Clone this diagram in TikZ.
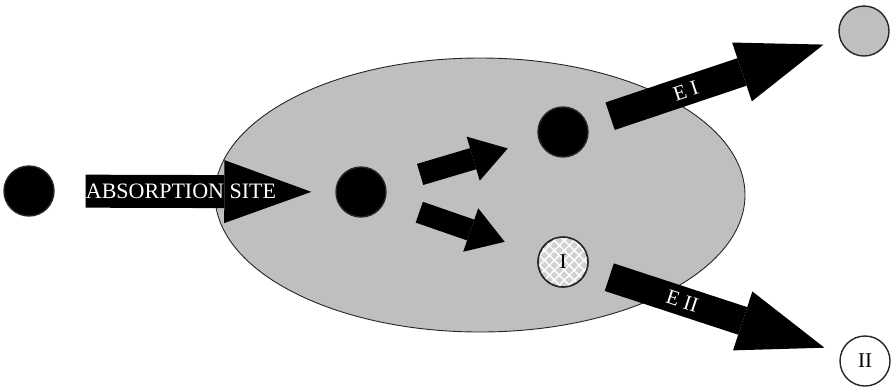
\documentclass[tikz,border=0pt]{standalone}
\usepackage{fontspec}
\setmainfont{Liberation Serif}
\usepackage{tikz}
\usetikzlibrary{arrows.meta,patterns.meta}

\begin{document}
\begin{tikzpicture}[x=1pt, y=-1pt,
  dot/.style={circle, draw=black!85, line width=1.4pt, minimum size=50pt,
    inner sep=0pt, font=\fontsize{21}{24}\selectfont},
  bigarr/.style={line width=33pt, -{Triangle[length=87pt, width=63pt, line width=0pt]}},
  midarr/.style={line width=29pt, -{Triangle[length=86pt, width=62pt, line width=0pt]}},
  smallarr/.style={line width=22pt, -{Triangle[length=36pt, width=46pt, line width=0pt]}},
  lbl/.style={text=white, inner sep=0pt},
]
  \useasboundingbox (0,0) rectangle (892,389);

  % body
  \draw[fill=black!25, line width=0.9pt, draw=black!85] (480,195) ellipse [x radius=265, y radius=137];

  \node[dot, fill=black] (drug)  at (29,191)  {};
  \node[dot, fill=black] (inner) at (361,192) {};
  \node[dot, fill=black] (met)   at (563,132) {};
  \node[dot, fill=black!18,
    postaction={pattern={Lines[angle=45, distance=7pt, line width=1.4pt]}, pattern color=white},
    postaction={pattern={Lines[angle=-45, distance=7pt, line width=1.4pt]}, pattern color=white}]
    (inh) at (563,262) {};
  \node[dot] at (inh) {I};
  \node[dot, fill=black!25] (outI)  at (864,31)  {};
  \node[dot, fill=white]    (outII) at (865,361) {II};

  \draw[bigarr, shorten <=31pt, shorten >=24pt] (drug) -- (inner)
    node[lbl, pos=0.45, font=\fontsize{22}{24}\selectfont] {ABSORPTION SITE};
  \draw[smallarr, shorten <=36pt, shorten >=32pt] (inner) -- (met);
  \draw[smallarr, shorten <=36pt, shorten >=36pt] (inner) -- (inh);
  \draw[midarr, shorten <=24pt, shorten >=17pt] (met) -- (outI)
    node[lbl, pos=0.39, sloped, font=\fontsize{21}{22}\selectfont] {E I};
  \draw[midarr, shorten <=23pt, shorten >=17pt] (inh) -- (outII)
    node[lbl, pos=0.375, sloped, font=\fontsize{21}{22}\selectfont] {E II};
\end{tikzpicture}
\end{document}
